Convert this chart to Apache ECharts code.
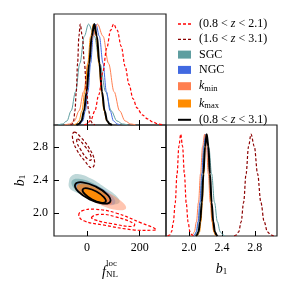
<!DOCTYPE html>
<html><head><meta charset="utf-8">
<script src="https://cdn.jsdelivr.net/npm/echarts@6/dist/echarts.min.js"></script>
<style>html,body{margin:0;padding:0;background:#fff}#c{width:291px;height:291px}</style>
</head><body><div id="c"></div>
<script>
const FONT = 'Liberation Serif';

// ---- axis ticks ----
const fnlTicks = [0, 200];
const b1Ticks = [2.0, 2.4, 2.8];

// ---- 1D marginals in f_NL (normalised) ----
const sgcF = [[-110,0],[-93,0.01],[-76,0.04],[-60,0.14],[-43,0.33],[-27,0.61],[-10,0.88],[6,1],[28,0.88],[49,0.61],[71,0.33],[92,0.14],[114,0.04],[135,0.01],[155,0]];
const ngcF = [[-35,0],[-26,0.01],[-16,0.04],[-6,0.14],[4,0.33],[14,0.61],[24,0.88],[34,1],[47,0.88],[61,0.61],[74,0.33],[88,0.14],[101,0.04],[115,0.01],[125,0]];
const kminF = [[-85,0],[-65,0.01],[-47.5,0.04],[-30,0.14],[-12.5,0.33],[5,0.61],[22.5,0.88],[40,1],[61,0.88],[82,0.61],[103,0.33],[124,0.14],[145,0.04],[166,0.01],[185,0]];
const kmaxF = [[-50,0],[-41,0.01],[-30,0.04],[-19,0.14],[-8,0.33],[3,0.61],[14,0.88],[25,1],[35,0.88],[45,0.61],[55,0.33],[65,0.14],[75,0.04],[85,0.01],[95,0]];
const allF = [[-40,0],[-30.5,0.01],[-20.75,0.04],[-11,0.14],[-1.25,0.33],[8.5,0.61],[18.25,0.88],[28,1],[37.75,0.88],[47.5,0.61],[57.25,0.33],[67,0.14],[76.75,0.04],[86.5,0.01],[95,0]];
const r1F = [[-10,0],[0,0.01],[15,0.05],[30,0.14],[45,0.3],[60,0.52],[75,0.76],[90,0.94],[101,1],[115,0.94],[130,0.78],[145,0.58],[160,0.40],[175,0.26],[190,0.17],[210,0.10],[230,0.06],[250,0.03],[270,0.01],[290,0]];
const r2F = [[-62,0],[-55.5,0.01],[-50.5,0.04],[-45.5,0.14],[-40.5,0.33],[-35.5,0.61],[-30.5,0.88],[-25.5,1],[-17.5,0.88],[-9.5,0.61],[-1.5,0.33],[6.5,0.14],[14.5,0.04],[22.5,0.01],[30,0]];

// ---- 1D marginals in b1 (normalised) ----
const sgcB = [[2.05,0],[2.07,0.01],[2.093,0.04],[2.115,0.14],[2.138,0.33],[2.16,0.61],[2.183,0.88],[2.205,1],[2.24,0.88],[2.275,0.61],[2.31,0.33],[2.345,0.14],[2.38,0.04],[2.415,0.01],[2.44,0]];
const ngcB = [[2.05,0],[2.065,0.01],[2.087,0.04],[2.11,0.14],[2.132,0.33],[2.155,0.61],[2.177,0.88],[2.2,1],[2.222,0.88],[2.245,0.61],[2.267,0.33],[2.29,0.14],[2.312,0.04],[2.335,0.01],[2.35,0]];
const kminB = [[2.02,0],[2.04,0.01],[2.065,0.04],[2.09,0.14],[2.115,0.33],[2.14,0.61],[2.165,0.88],[2.19,1],[2.212,0.88],[2.235,0.61],[2.258,0.33],[2.28,0.14],[2.302,0.04],[2.325,0.01],[2.34,0]];
const kmaxB = [[2.1,0],[2.11,0.01],[2.128,0.04],[2.145,0.14],[2.163,0.33],[2.18,0.61],[2.198,0.88],[2.215,1],[2.232,0.88],[2.25,0.61],[2.268,0.33],[2.285,0.14],[2.302,0.04],[2.32,0.01],[2.335,0]];
const allB = [[2.085,0],[2.095,0.01],[2.115,0.04],[2.135,0.14],[2.155,0.33],[2.175,0.61],[2.195,0.88],[2.215,1],[2.235,0.88],[2.255,0.61],[2.275,0.33],[2.295,0.14],[2.315,0.04],[2.335,0.01],[2.345,0]];
const r1B = [[1.74,0],[1.764,0.01],[1.787,0.04],[1.809,0.135],[1.832,0.325],[1.854,0.607],[1.877,0.882],[1.899,1],[1.921,0.882],[1.944,0.607],[1.966,0.325],[1.989,0.135],[2.011,0.044],[2.034,0.011],[2.06,0]];
const r2B = [[2.55,0],[2.574,0.01],[2.604,0.04],[2.634,0.14],[2.664,0.33],[2.694,0.61],[2.724,0.88],[2.754,1],[2.794,0.88],[2.834,0.61],[2.874,0.33],[2.914,0.14],[2.954,0.04],[2.994,0.01],[3.03,0]];

// ---- 2D contours [f_NL, b1] ----
const sgcOuter = [[-68.5,2.377],[-58.6,2.451],[-29.4,2.471],[15.1,2.418],[65.7,2.315],[116.3,2.192],[122.7,2.123],[91.2,2.106],[40.2,2.151],[-10.3,2.213],[-48.4,2.262],[-66.2,2.303]];
const sgcInner = [[90.1,2.135],[58.5,2.111],[2.2,2.175],[-46.5,2.290],[-57.5,2.389],[-25.9,2.414],[30.5,2.350],[79.0,2.234]];
const ngcOuter = [[106.8,2.119],[76.0,2.095],[19.0,2.155],[-30.5,2.262],[-43.8,2.356],[-13.0,2.380],[44.0,2.320],[93.5,2.213]];
const ngcInner = [[83.2,2.138],[63.4,2.121],[27.0,2.158],[-4.2,2.227],[-12.6,2.288],[7.5,2.305],[43.7,2.268],[75.2,2.199]];
const kminOuter = [[148.2,2.053],[113.2,2.037],[43.7,2.110],[-19.8,2.229],[-39.6,2.324],[-4.6,2.340],[65.3,2.267],[128.4,2.148]];
const kminInner = [[93.9,2.115],[71.8,2.101],[30.7,2.145],[-5.4,2.223],[-15.7,2.287],[6.4,2.300],[47.5,2.256],[84.0,2.179]];
const kmaxOuter = [[80,2.145],[55,2.125],[12,2.170],[-28,2.262],[-38,2.335],[-13,2.362],[32,2.312],[72,2.225]];
const kmaxInner = [[65,2.145],[48,2.133],[20,2.168],[-5,2.228],[-11,2.280],[5,2.292],[33,2.258],[58,2.197]];
const allOuter = [[88.5,2.139],[60.8,2.115],[10.2,2.166],[-33.5,2.263],[-44.5,2.348],[-16.8,2.373],[33.8,2.321],[77.5,2.224]];
const allInner = [[71.4,2.138],[52.8,2.126],[19.7,2.164],[-8.8,2.231],[-16.0,2.288],[2.6,2.300],[35.7,2.262],[64.2,2.194]];
const r1Outer = [[-31,1.972],[-16.6,2.028],[30,2.045],[110,2.0],[205.2,1.88],[263,1.80],[245,1.79],[175,1.795],[60,1.855],[-12,1.905]];
const r1Inner = [[17.6,1.946],[46.8,1.983],[103.8,1.958],[179.9,1.868],[173.5,1.835],[91.1,1.872],[34.1,1.913]];
const r2Outer = [[-48.3,2.984],[-22.9,2.919],[8.8,2.787],[29,2.623],[17.6,2.549],[-7.7,2.631],[-38.1,2.767],[-54.6,2.910]];
const r2Inner = [[-35.6,2.902],[-10.2,2.820],[12.6,2.713],[15.1,2.644],[-0.1,2.664],[-25.5,2.779],[-38.1,2.861]];

const C = {sgc:'#5f9ea0', ngc:'#4169e1', kmin:'#ff7f50', kmax:'#ff8c00', all:'#000000', r1:'#ff0000', r2:'#8b0000'};
const FNL = {min:-125, max:300};
const B1 = {min:1.72, max:3.07};

const richBase = {
  i:{fontFamily:FONT, fontStyle:'italic', fontSize:12, lineHeight:12, color:'#000'},
  s:{fontFamily:FONT, fontSize:8.5, lineHeight:12, padding:[5,0,0,0], color:'#000'}
};

function line1D(name, data, color, xi, yi, width, dash){
  return {type:'line', name, xAxisIndex:xi, yAxisIndex:yi, data, symbol:'none', smooth:0.35, smoothMonotone:'x',
    lineStyle:{color, width, type: dash ? [3,2] : 'solid'}, itemStyle:{color}, silent:true, z: dash?5:(name==='all'?4:3)};
}
function contour(name, pts, style, z){
  return {type:'custom', name, xAxisIndex:1, yAxisIndex:1, data:pts, silent:true, z,
    renderItem:(params, api)=>{
      if (params.dataIndex !== 0) return null;
      return {type:'polygon', shape:{points: pts.map(p=>api.coord(p)), smooth:0.45}, style};
    }};
}
function fill(color, op){ return {fill:color, opacity:op, stroke:'none'}; }
function stroke(color, w, dash){ return {fill:'none', stroke:color, lineWidth:w, lineDash:dash||null}; }

const tickStyle = {inside:true, length:5, lineStyle:{color:'#000', width:1}};
const labelStyle = {fontFamily:FONT, fontSize:12, color:'#000'};
const gridStyle = {show:true, borderColor:'#222', borderWidth:1.2, backgroundColor:'transparent'};
const noLine = {show:false, onZero:false};

const option = {
  backgroundColor:'#fff',
  animation:false,
  textStyle:{fontFamily:FONT},
  grid:[
    Object.assign({left:54, top:14, width:112, height:111}, gridStyle),
    Object.assign({left:54, top:125, width:112, height:111}, gridStyle),
    Object.assign({left:166, top:125, width:111, height:111}, gridStyle)
  ],
  xAxis:[
    {gridIndex:0, type:'value', min:FNL.min, max:FNL.max, axisLine:noLine, splitLine:{show:false},
     axisLabel:{show:false}, axisTick:Object.assign({customValues:fnlTicks}, tickStyle)},
    {gridIndex:1, type:'value', min:FNL.min, max:FNL.max, axisLine:noLine, splitLine:{show:false},
     axisLabel:Object.assign({customValues:fnlTicks, margin:6}, labelStyle), axisTick:Object.assign({customValues:fnlTicks}, tickStyle),
     name:'{p|f}{sup|loc}\n{f|f}{sub|NL}', nameLocation:'middle', nameGap:24,
     nameTextStyle:{rich:{
       p:{fontFamily:FONT, fontStyle:'italic', fontSize:14, lineHeight:7, color:'rgba(0,0,0,0)', align:'left'},
       sup:{fontFamily:FONT, fontSize:9, lineHeight:7, color:'#000', align:'left'},
       f:{fontFamily:FONT, fontStyle:'italic', fontSize:14, lineHeight:11, color:'#000', align:'left'},
       sub:{fontFamily:FONT, fontSize:9, lineHeight:11, padding:[5,0,0,0], color:'#000', align:'left'}
     }}},
    {gridIndex:1, type:'value', position:'top', min:FNL.min, max:FNL.max, axisLine:noLine, splitLine:{show:false},
     axisLabel:{show:false}, axisTick:Object.assign({customValues:fnlTicks}, tickStyle)},
    {gridIndex:2, type:'value', min:B1.min, max:B1.max, axisLine:noLine, splitLine:{show:false},
     axisLabel:Object.assign({customValues:b1Ticks, margin:6, formatter:v=>v.toFixed(1)}, labelStyle),
     axisTick:Object.assign({customValues:b1Ticks}, tickStyle),
     name:'{i|b}{s|1}', nameLocation:'middle', nameGap:26,
     nameTextStyle:{rich:{
       i:{fontFamily:FONT, fontStyle:'italic', fontSize:14, lineHeight:14, color:'#000'},
       s:{fontFamily:FONT, fontSize:9, lineHeight:14, padding:[6,0,0,0], color:'#000'}}}}
  ],
  yAxis:[
    {gridIndex:0, type:'value', min:0, max:1.1, show:false, axisLine:noLine},
    {gridIndex:1, type:'value', min:B1.min, max:B1.max, axisLine:noLine, splitLine:{show:false},
     axisLabel:Object.assign({customValues:b1Ticks, margin:6, formatter:v=>v.toFixed(1)}, labelStyle),
     axisTick:Object.assign({customValues:b1Ticks}, tickStyle),
     name:'{i|b}{s|1}', nameLocation:'middle', nameGap:27,
     nameTextStyle:{rich:{
       i:{fontFamily:FONT, fontStyle:'italic', fontSize:14, lineHeight:14, color:'#000'},
       s:{fontFamily:FONT, fontSize:9, lineHeight:14, padding:[6,0,0,0], color:'#000'}}}},
    {gridIndex:1, type:'value', position:'right', min:B1.min, max:B1.max, axisLine:noLine, splitLine:{show:false},
     axisLabel:{show:false}, axisTick:Object.assign({customValues:b1Ticks}, tickStyle)},
    {gridIndex:2, type:'value', min:0, max:1.09, show:false, axisLine:noLine}
  ],
  legend:{
    orient:'vertical', left:177, top:18, padding:0, itemWidth:13, itemHeight:8, itemGap:3.3,
    selectedMode:false,
    textStyle:{fontFamily:FONT, fontSize:12, lineHeight:12, color:'#000', padding:[0,0,0,3], rich:richBase},
    formatter:(n)=>({
      r1:'(0.8 < {i|z} < 2.1)', r2:'(1.6 < {i|z} < 3.1)', SGC:'SGC', NGC:'NGC',
      kmin:'{i|k}{s|min}', kmax:'{i|k}{s|max}', all:'(0.8 < {i|z} < 3.1)'
    })[n],
    data:[
      {name:'r1', itemStyle:{opacity:0}, lineStyle:{width:1.3, type:[3,2]}},
      {name:'r2', itemStyle:{opacity:0}, lineStyle:{width:1.3, type:[3,2]}},
      {name:'SGC', icon:'rect', itemStyle:{color:C.sgc, borderWidth:0}},
      {name:'NGC', icon:'rect', itemStyle:{color:C.ngc, borderWidth:0}},
      {name:'kmin', icon:'rect', itemStyle:{color:C.kmin, borderWidth:0}},
      {name:'kmax', icon:'rect', itemStyle:{color:C.kmax, borderWidth:0}},
      {name:'all', itemStyle:{opacity:0}, lineStyle:{width:2}}
    ]
  },
  series:[
    line1D('SGC', sgcF, C.sgc, 0, 0, 1.0),
    line1D('NGC', ngcF, C.ngc, 0, 0, 1.0),
    line1D('kmin', kminF, C.kmin, 0, 0, 1.0),
    line1D('kmax', kmaxF, C.kmax, 0, 0, 1.0),
    line1D('all', allF, C.all, 0, 0, 2.0),
    line1D('r1', r1F, C.r1, 0, 0, 1.2, true),
    line1D('r2', r2F, C.r2, 0, 0, 1.2, true),

    line1D('SGC', sgcB, C.sgc, 3, 3, 1.0),
    line1D('NGC', ngcB, C.ngc, 3, 3, 1.0),
    line1D('kmin', kminB, C.kmin, 3, 3, 1.0),
    line1D('kmax', kmaxB, C.kmax, 3, 3, 1.0),
    line1D('all', allB, C.all, 3, 3, 2.0),
    line1D('r1', r1B, C.r1, 3, 3, 1.2, true),
    line1D('r2', r2B, C.r2, 3, 3, 1.2, true),

    contour('sgc2o', sgcOuter, fill(C.sgc, 0.4), 1),
    contour('sgc2i', sgcInner, fill(C.sgc, 0.55), 1),
    contour('ngc2o', ngcOuter, fill(C.ngc, 0.35), 1),
    contour('ngc2i', ngcInner, fill(C.ngc, 0.55), 1),
    contour('kmin2o', kminOuter, fill(C.kmin, 0.45), 1),
    contour('kmin2i', kminInner, fill(C.kmin, 0.7), 1),
    contour('kmax2o', kmaxOuter, fill(C.kmax, 0.5), 1),
    contour('kmax2i', kmaxInner, fill(C.kmax, 0.85), 1),
    contour('all2o', allOuter, stroke('#000', 1.8), 2),
    contour('all2i', allInner, stroke('#000', 1.8), 2),
    contour('r12o', r1Outer, stroke(C.r1, 1.2, [3,2]), 2),
    contour('r12i', r1Inner, stroke(C.r1, 1.2, [3,2]), 2),
    contour('r22o', r2Outer, stroke(C.r2, 1.2, [3,2]), 2),
    contour('r22i', r2Inner, stroke(C.r2, 1.2, [3,2]), 2)
  ]
};
const chart = echarts.init(document.getElementById('c'), null, {renderer:'canvas'});
chart.setOption(option);
</script>
</body></html>
